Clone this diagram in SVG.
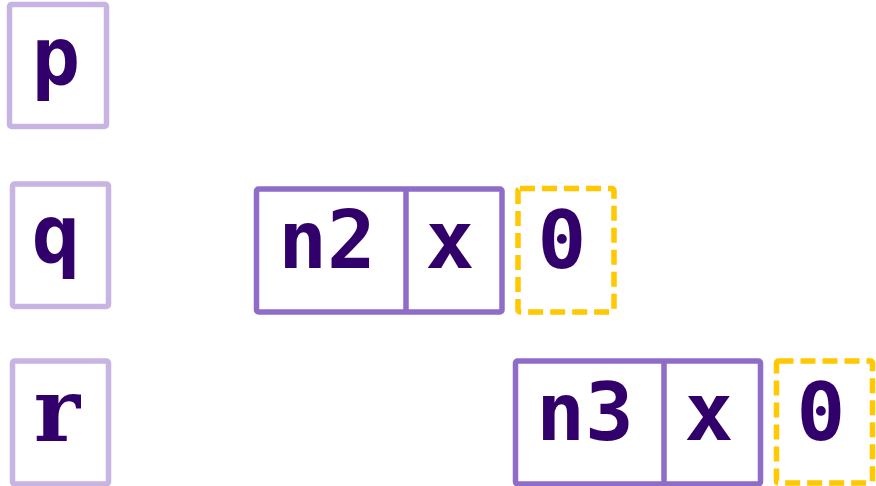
<svg xmlns="http://www.w3.org/2000/svg" width="876" height="486" viewBox="0 0 876 486">
  <style>
    .lbl { font-family: "DejaVu Sans Mono", "Liberation Mono", monospace; font-weight: bold; font-size: 81px; fill: #32006b; text-anchor: middle; }
    .slab { font-family: "DejaVu Serif", "Liberation Serif", serif; font-size: 88px; }
    .var { fill: #ffffff; stroke: #c8b4e2; stroke-width: 5.5; stroke-linejoin: round; }
    .cell { fill: #ffffff; stroke: #8e6cc8; stroke-width: 5.5; stroke-linejoin: round; }
    .div { stroke: #8e6cc8; stroke-width: 5.5; }
    .nil { fill: none; stroke: #ffc800; stroke-width: 5.5; stroke-dasharray: 15 7; }
  </style>
  <rect width="876" height="486" fill="#ffffff"/>

  <!-- variables -->
  <g id="var-p">
    <rect class="var" x="9.5" y="4.5" width="97" height="122" rx="2"/>
    <text class="lbl" x="56" y="84">p</text>
  </g>
  <g id="var-q">
    <rect class="var" x="12.5" y="184" width="96" height="122.5" rx="2"/>
    <text class="lbl" x="56" y="262">q</text>
  </g>
  <g id="var-r">
    <rect class="var" x="12.5" y="361" width="96" height="123" rx="2"/>
    <text class="lbl slab" x="57" y="441">r</text>
  </g>

  <!-- node n2 -->
  <g id="node-n2">
    <rect class="cell" x="256.5" y="189" width="245.5" height="123" rx="2"/>
    <line class="div" x1="406" y1="189" x2="406" y2="312"/>
    <text class="lbl" x="327" y="268">n2</text>
    <text class="lbl" x="450" y="268">x</text>
  </g>
  <g id="nil-n2">
    <rect class="nil" x="518" y="188.5" width="96" height="123.5" rx="2"/>
    <text class="lbl" x="562" y="268">0</text>
  </g>

  <!-- node n3 -->
  <g id="node-n3">
    <rect class="cell" x="515.5" y="361" width="245" height="123" rx="2"/>
    <line class="div" x1="664" y1="361" x2="664" y2="484"/>
    <text class="lbl" x="585" y="440">n3</text>
    <text class="lbl" x="709" y="440">x</text>
  </g>
  <g id="nil-n3">
    <rect class="nil" x="776.5" y="361" width="96" height="122" rx="2"/>
    <text class="lbl" x="821" y="440">0</text>
  </g>

  <g id="connectors"></g>
</svg>
